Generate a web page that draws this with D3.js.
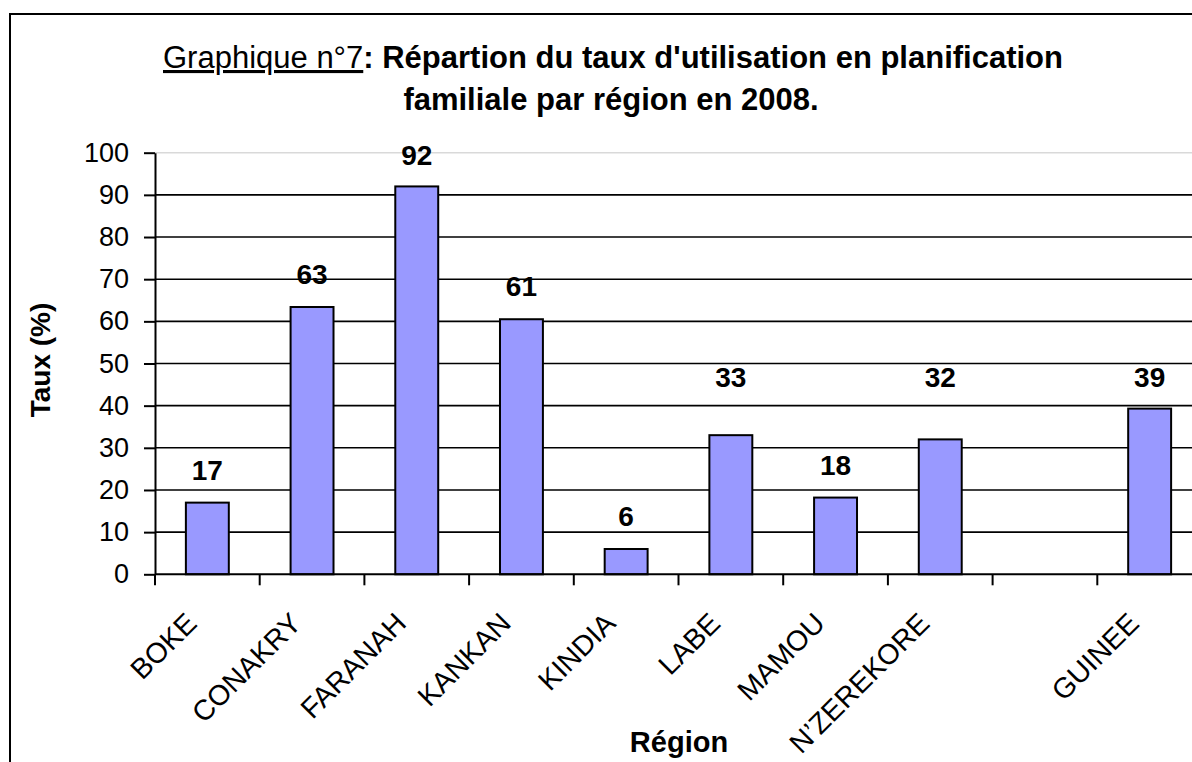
<!DOCTYPE html>
<html>
<head>
<meta charset="utf-8">
<script src="https://cdn.jsdelivr.net/npm/d3@7"></script>
<style>
  body { margin: 0; background: #fff; }
  svg text { font-family: "Liberation Sans", Arial, sans-serif; fill: #000; }
</style>
</head>
<body>
<svg id="chart"></svg>
<script>
// données
const regions = ['BOKE', 'CONAKRY', 'FARANAH', 'KANKAN', 'KINDIA', 'LABE', 'MAMOU', 'N\u2019ZEREKORE', '', 'GUINEE'];
const taux = [17, 63.4, 92, 60.5, 6, 33, 18.2, 32, null, 39.3];
const yTicks = [0, 10, 20, 30, 40, 50, 60, 70, 80, 90, 100];

// décalage vertical des étiquettes (px), certaines ont été déplacées à la main
const labelLift = [23, 23, 21, 23, 23, 48, 23, 52, 0, 22];

const width = 1192;
const height = 762;
const plot = { left: 155, right: 1202, top: 152.7, bottom: 574.3 };

const svg = d3.select('#chart').attr('width', width).attr('height', height);

// cadre du graphique (sort de l'image à droite et en bas)
svg.append('rect')
  .attr('x', 10).attr('y', 14)
  .attr('width', 1300).attr('height', 900)
  .attr('fill', '#fff')
  .attr('stroke', '#000')
  .attr('stroke-width', 2);

const x = d3.scaleBand()
  .domain(regions)
  .range([plot.left, plot.right])
  .padding(0);

const y = d3.scaleLinear()
  .domain([0, 100])
  .range([plot.bottom, plot.top]);

// grille horizontale
svg.append('g')
  .selectAll('line')
  .data(yTicks.filter(d => d > 0))
  .enter()
  .append('line')
  .attr('x1', plot.left)
  .attr('x2', plot.right)
  .attr('y1', d => y(d))
  .attr('y2', d => y(d))
  .attr('stroke', d => d === 100 ? '#d9d9d9' : '#000')
  .attr('stroke-width', 1.6);

// barres
const barW = x.bandwidth() * 0.41;
svg.append('g')
  .selectAll('rect')
  .data(regions.map((r, i) => ({ r, v: taux[i], i })).filter(d => d.v != null))
  .enter()
  .append('rect')
  .attr('x', d => x(d.r) + (x.bandwidth() - barW) / 2)
  .attr('y', d => y(d.v))
  .attr('width', barW)
  .attr('height', d => y(0) - y(d.v))
  .attr('fill', '#9999ff')
  .attr('stroke', '#000')
  .attr('stroke-width', 2);

// étiquettes de valeurs
svg.append('g')
  .selectAll('text')
  .data(regions.map((r, i) => ({ r, v: taux[i], i })).filter(d => d.v != null))
  .enter()
  .append('text')
  .attr('x', d => x(d.r) + x.bandwidth() / 2)
  .attr('y', d => y(d.v) - labelLift[d.i])
  .attr('text-anchor', 'middle')
  .attr('font-size', '28px')
  .attr('font-weight', 'bold')
  .text(d => Math.round(d.v));

// axe Y
const yAxis = svg.append('g')
  .attr('transform', `translate(${plot.left},0)`)
  .call(d3.axisLeft(y).tickValues(yTicks).tickSize(11).tickSizeOuter(0).tickPadding(15));
yAxis.select('.domain').attr('stroke', '#000').attr('stroke-width', 2);
yAxis.selectAll('.tick line').attr('stroke', '#000').attr('stroke-width', 2);
yAxis.selectAll('.tick text')
  .attr('font-size', '27px')
  .attr('font-family', '"Liberation Sans", Arial, sans-serif');

// axe X : ligne + graduations aux limites des catégories
const xg = svg.append('g');
xg.append('line')
  .attr('x1', plot.left).attr('x2', plot.right)
  .attr('y1', y(0)).attr('y2', y(0))
  .attr('stroke', '#000').attr('stroke-width', 2);
xg.selectAll('.xtick')
  .data(regions)
  .enter()
  .append('line')
  .attr('class', 'xtick')
  .attr('x1', d => x(d)).attr('x2', d => x(d))
  .attr('y1', y(0)).attr('y2', y(0) + 11)
  .attr('stroke', '#000').attr('stroke-width', 2);

xg.selectAll('.xlab')
  .data(regions.filter(d => d !== ''))
  .enter()
  .append('text')
  .attr('class', 'xlab')
  .attr('text-anchor', 'end')
  .attr('font-size', '28.5px')
  .attr('transform', d => `translate(${x(d) + x.bandwidth() / 2 - 9},625) rotate(-45)`)
  .text(d => d);

// titres des axes
svg.append('text')
  .attr('transform', 'translate(50,360) rotate(-90)')
  .attr('text-anchor', 'middle')
  .attr('font-size', '28px')
  .attr('font-weight', 'bold')
  .text('Taux (%)');

svg.append('text')
  .attr('x', 679)
  .attr('y', 752)
  .attr('text-anchor', 'middle')
  .attr('font-size', '29px')
  .attr('font-weight', 'bold')
  .text('Région');

// titre
const t1 = svg.append('text')
  .attr('x', 613).attr('y', 68)
  .attr('text-anchor', 'middle')
  .attr('font-size', '31px');
t1.append('tspan').style('text-decoration', 'underline').text('Graphique n°7');
t1.append('tspan').attr('font-weight', 'bold').text(": Répartion du taux d'utilisation en planification");

svg.append('text')
  .attr('x', 611).attr('y', 110)
  .attr('text-anchor', 'middle')
  .attr('font-size', '31px')
  .attr('font-weight', 'bold')
  .text('familiale par région en 2008.');
</script>
</body>
</html>
